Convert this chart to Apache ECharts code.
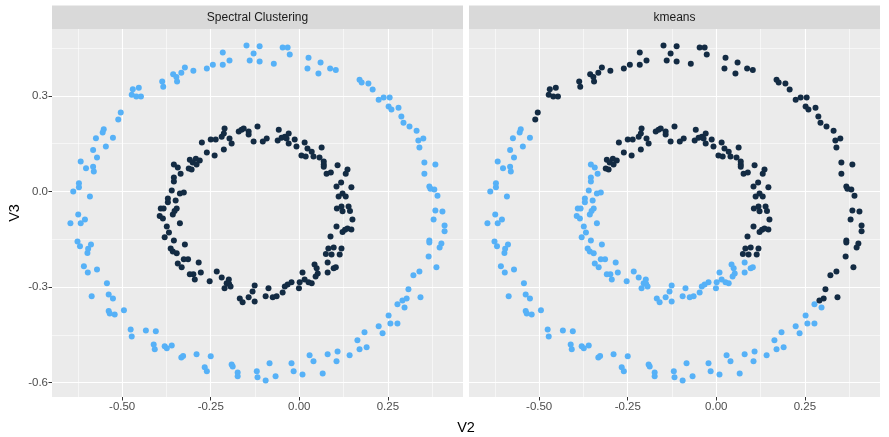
<!DOCTYPE html>
<html>
<head>
<meta charset="utf-8">
<script src="https://cdn.jsdelivr.net/npm/echarts@6/dist/echarts.min.js"></script>
<style>html,body{margin:0;padding:0;background:#fff}#c{width:889px;height:437px}</style>
</head>
<body>
<div id="c"></div>
<script>
// ---- data (V2, V3) ----
const panelTitles = ['Spectral Clustering', 'kmeans'];
const xTicks = [-0.5, -0.25, 0, 0.25];
const xMinor = [-0.625, -0.375, -0.125, 0.125, 0.375];
const yTicks = [-0.6, -0.3, 0, 0.3];
const yMinor = [-0.45, -0.15, 0.15, 0.45];

// outer ring, split where kmeans changes cluster
const outerLightUpper = [[-0.638,0],[-0.622,0.013],[-0.622,0.026],[-0.591,-0.016],[-0.602,0.073],[-0.617,0.094],[-0.582,0.078],[-0.580,0.063],[-0.571,0.107],[-0.582,0.130],[-0.546,0.141],[-0.574,0.167],[-0.526,0.169],[-0.552,0.195],[-0.555,0.185]];
const outerDarkArc = [[-0.511,0.226],[-0.504,0.248],[-0.473,0.304],[-0.460,0.298],[-0.447,0.298],[-0.470,0.321],[-0.453,0.326],[-0.387,0.345],[-0.384,0.329],[-0.356,0.368],[-0.347,0.359],[-0.345,0.345],[-0.333,0.373],[-0.323,0.389],[-0.299,0.379],[-0.261,0.386],[-0.244,0.398],[-0.216,0.436],[-0.216,0.398],[-0.197,0.411],[-0.149,0.458],[-0.129,0.433],[-0.140,0.411],[-0.112,0.456],[-0.112,0.408],[-0.072,0.401],[-0.047,0.452],[-0.033,0.452],[-0.027,0.430],[0.026,0.420],[0.023,0.386],[0.060,0.405],[0.054,0.370],[0.087,0.386],[0.103,0.381],[0.170,0.351],[0.176,0.342],[0.195,0.339],[0.207,0.320],[0.224,0.288],[0.238,0.295],[0.255,0.295],[0.252,0.267],[0.260,0.257],[0.280,0.263],[0.288,0.235],[0.294,0.216],[0.311,0.204],[0.331,0.191],[0.350,0.166],[0.336,0.160],[0.339,0.138],[0.353,0.091],[0.384,0.085],[0.353,0.056],[0.367,0.016],[0.370,0.009],[0.381,0.006],[0.390,-0.013],[0.384,-0.060],[0.404,-0.063],[0.379,-0.088],[0.410,-0.107],[0.410,-0.125],[0.367,-0.154],[0.367,-0.160],[0.401,-0.163],[0.396,-0.176],[0.365,-0.204],[0.387,-0.238],[0.339,-0.251],[0.322,-0.263],[0.308,-0.307],[0.342,-0.332],[0.303,-0.336],[0.291,-0.342]];
const outerLightLower = [[0.277,-0.354],[0.297,-0.364],[0.252,-0.389],[0.257,-0.414],[0.277,-0.414],[0.224,-0.423],[0.235,-0.445],[0.184,-0.442],[0.164,-0.467],[0.170,-0.495],[0.190,-0.489],[0.108,-0.502],[0.142,-0.514],[0.080,-0.511],[0.105,-0.533],[0.066,-0.571],[0.040,-0.533],[0.029,-0.514],[0.009,-0.574],[-0.016,-0.564],[-0.022,-0.539],[-0.067,-0.580],[-0.084,-0.539],[-0.095,-0.593],[-0.120,-0.564],[-0.118,-0.583],[-0.174,-0.568],[-0.174,-0.580],[-0.191,-0.543],[-0.188,-0.549],[-0.250,-0.517],[-0.267,-0.552],[-0.261,-0.564],[-0.290,-0.511],[-0.333,-0.521],[-0.328,-0.516],[-0.360,-0.483],[-0.380,-0.486],[-0.374,-0.492],[-0.411,-0.480],[-0.408,-0.495],[-0.405,-0.439],[-0.433,-0.436],[-0.476,-0.433],[-0.473,-0.455],[-0.495,-0.373],[-0.538,-0.375],[-0.535,-0.383],[-0.521,-0.386],[-0.526,-0.336],[-0.538,-0.323],[-0.586,-0.329],[-0.543,-0.288],[-0.608,-0.235],[-0.597,-0.254],[-0.571,-0.245],[-0.598,-0.193],[-0.596,-0.180],[-0.619,-0.172],[-0.626,-0.157],[-0.588,-0.166],[-0.646,-0.100],[-0.617,-0.100],[-0.605,-0.088],[-0.624,-0.072]];

// inner ring, split where kmeans changes cluster
const innerLightLeft = [[-0.360,0.003],[-0.337,-0.006],[-0.326,-0.003],[-0.354,0.044],[-0.354,0.031],[-0.335,0.056],[-0.354,0.085],[-0.343,0.075]];
const innerDarkArc = [[-0.309,0.100],[-0.292,0.103],[-0.281,0.097],[-0.301,0.091],[-0.290,0.085],[-0.312,0.072],[-0.304,0.069],[-0.275,0.154],[-0.261,0.122],[-0.250,0.163],[-0.236,0.163],[-0.239,0.113],[-0.219,0.172],[-0.213,0.182],[-0.211,0.198],[-0.213,0.132],[-0.197,0.166],[-0.191,0.151],[-0.171,0.188],[-0.163,0.194],[-0.157,0.198],[-0.143,0.188],[-0.143,0.179],[-0.118,0.204],[-0.129,0.157],[-0.103,0.157],[-0.092,0.166],[-0.058,0.194],[-0.061,0.160],[-0.050,0.169],[-0.041,0.172],[-0.036,0.166],[-0.030,0.182],[-0.030,0.151],[-0.013,0.163],[-0.008,0.141],[0.015,0.154],[0.023,0.135],[0.035,0.125],[0.006,0.113],[0.018,0.110],[0.040,0.110],[0.063,0.138],[0.057,0.107],[0.069,0.094],[0.069,0.085],[0.069,0.078],[0.077,0.056],[0.108,0.082],[0.136,0.069],[0.131,0.056],[0.089,0.060],[0.118,0.028],[0.147,0.013],[0.105,0.016],[0.122,-0.006],[0.111,-0.016],[0.131,-0.016],[0.106,-0.053],[0.119,-0.047],[0.139,-0.047],[0.143,-0.061],[0.122,-0.062],[0.150,-0.088],[0.105,-0.110],[0.122,-0.127],[0.129,-0.120],[0.136,-0.116],[0.147,-0.119],[0.088,-0.141],[0.082,-0.179],[0.097,-0.176],[0.119,-0.179],[0.075,-0.196],[0.091,-0.198],[0.114,-0.198]];
const innerLightLower = [[0.080,-0.223],[0.097,-0.241],[0.103,-0.238],[0.080,-0.254],[0.043,-0.229],[0.049,-0.241],[0.052,-0.257],[0.046,-0.267],[0.026,-0.285],[0.035,-0.288],[0.009,-0.254],[0.015,-0.276],[0.001,-0.285],[-0.001,-0.304],[-0.022,-0.285],[-0.033,-0.292],[-0.041,-0.298],[-0.047,-0.317],[-0.064,-0.329],[-0.075,-0.332],[-0.087,-0.304],[-0.095,-0.329],[-0.126,-0.345],[-0.126,-0.295],[-0.132,-0.314],[-0.143,-0.332],[-0.160,-0.348],[-0.168,-0.336],[-0.211,-0.304],[-0.205,-0.288],[-0.199,-0.276],[-0.198,-0.290],[-0.194,-0.298],[-0.219,-0.270],[-0.233,-0.251],[-0.253,-0.282],[-0.278,-0.254],[-0.295,-0.276],[-0.299,-0.260],[-0.309,-0.260],[-0.284,-0.223],[-0.314,-0.213],[-0.326,-0.213],[-0.332,-0.238],[-0.343,-0.226],[-0.346,-0.194],[-0.357,-0.188],[-0.363,-0.179],[-0.323,-0.166],[-0.354,-0.154],[-0.380,-0.144],[-0.368,-0.129],[-0.374,-0.110],[-0.337,-0.100],[-0.394,-0.077],[-0.385,-0.085],[-0.357,-0.072],[-0.346,-0.053],[-0.352,-0.061],[-0.391,-0.053],[-0.383,-0.053],[-0.371,-0.034],[-0.371,-0.022],[-0.349,-0.028]];

// ---- styling / layout ----
const DARK = '#132B43', LIGHT = '#56B1F7';
const X_MIN = -0.698, X_MAX = 0.462, Y_MIN = -0.645, Y_MAX = 0.510;
const FONT = 'Liberation Sans, Arial, sans-serif';
const grids = [
  {left: 52, top: 29, width: 411, height: 368},
  {left: 469, top: 29, width: 411, height: 368}
];

const spectralInner = innerDarkArc.concat(innerLightLeft, innerLightLower);
const spectralOuter = outerLightUpper.concat(outerDarkArc, outerLightLower);
const kmeansDark = outerDarkArc.concat(innerDarkArc);
const kmeansLight = outerLightUpper.concat(outerLightLower, innerLightLeft, innerLightLower);

// axis order per grid: [major (labels + major grid lines), minor (minor grid lines only)]
function axis(kind, gridIndex, values, major, showLabels){
  const isX = kind === 'x';
  return {
    type: 'value', gridIndex: gridIndex,
    min: isX ? X_MIN : Y_MIN, max: isX ? X_MAX : Y_MAX,
    position: isX ? 'bottom' : 'left',
    axisLine: {show: false, onZero: false},
    axisTick: {show: showLabels, length: 3.5, lineStyle: {color: '#333333', width: 1}, customValues: values},
    axisLabel: {show: showLabels, color: '#4D4D4D', fontSize: 11.5, fontFamily: FONT, margin: 4,
      customValues: values, formatter: v => isX ? v.toFixed(2) : v.toFixed(1)},
    splitLine: {show: true, lineStyle: {color: '#FFFFFF', width: major ? 1.1 : 0.55, type: 'solid'}},
    minorSplitLine: {show: false}, splitArea: {show: false}
  };
}
const xAxes = [], yAxes = [];
[0, 1].forEach(i => {
  xAxes.push(axis('x', i, xTicks, true, true));
  xAxes.push(axis('x', i, xMinor, false, false));
  yAxes.push(axis('y', i, yTicks, true, i === 0));
  yAxes.push(axis('y', i, yMinor, false, false));
});

function pts(i, data, color){
  return {type: 'scatter', xAxisIndex: 2 * i, yAxisIndex: 2 * i, data: data, symbolSize: 6,
    itemStyle: {color: color, opacity: 1}, animation: false};
}
const series = [
  pts(0, spectralOuter, LIGHT), pts(0, spectralInner, DARK),
  pts(1, kmeansLight, LIGHT), pts(1, kmeansDark, DARK)
];

const graphic = [];
grids.forEach((g, i) => {
  graphic.push({type: 'rect', left: g.left, top: 5.5, shape: {width: g.width, height: 23.5},
    style: {fill: '#D9D9D9'}, silent: true});
  graphic.push({type: 'text', x: g.left + g.width / 2, y: 17.5,
    style: {text: panelTitles[i], fill: '#1A1A1A', font: '12px ' + FONT, align: 'center', verticalAlign: 'middle'}, silent: true});
});
graphic.push({type: 'text', x: 466, y: 428, style: {text: 'V2', fill: '#000', font: '14.5px ' + FONT, align: 'center', verticalAlign: 'middle'}});
graphic.push({type: 'text', x: 15, y: 213, rotation: Math.PI / 2, style: {text: 'V3', fill: '#000', font: '14.5px ' + FONT, align: 'center', verticalAlign: 'middle'}});

const chart = echarts.init(document.getElementById('c'), null, {renderer: 'canvas'});
chart.setOption({
  backgroundColor: '#FFFFFF',
  animation: false,
  grid: grids.map(g => Object.assign({show: true, backgroundColor: '#EBEBEB', borderWidth: 0}, g)),
  xAxis: xAxes,
  yAxis: yAxes,
  graphic: graphic,
  series: series
});
</script>
</body>
</html>
